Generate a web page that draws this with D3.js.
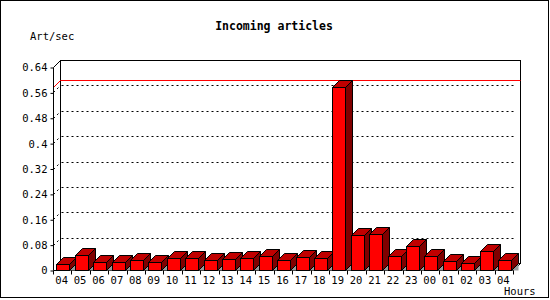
<!doctype html>
<html>
  <head>
    <meta charset="utf-8" />
    <title>Incoming articles</title>
    <style>
      body { margin: 0; background: #fff; }
      svg { display: block; }
      text { font-family: "DejaVu Sans Mono", monospace; font-size: 10.5px; fill: #000; }
      .title { font-weight: bold; font-size: 11.5px; }
      .grid { fill: none; stroke: #000; stroke-dasharray: 2,3; }
      .edge { fill: none; stroke: #000; }
    </style>
  </head>
  <body>
    <div id="chart"></div>
    <script src="https://cdn.jsdelivr.net/npm/d3@7"></script>
    <script>
      // hours shown on the x axis
      var hours = ["04","05","06","07","08","09","10","11","12","13","14","15","16",
                   "17","18","19","20","21","22","23","00","01","02","03","04"];
      // articles per second
      var rates = [0.018, 0.046, 0.024, 0.024, 0.032, 0.024, 0.037, 0.037, 0.031, 0.034,
                   0.037, 0.043, 0.031, 0.040, 0.037, 0.578, 0.110, 0.114, 0.043, 0.075,
                   0.043, 0.028, 0.021, 0.059, 0.031];
      var yTicks = [0, 0.08, 0.16, 0.24, 0.32, 0.4, 0.48, 0.56, 0.64];
      var gridValues = [0.08, 0.16, 0.24, 0.32, 0.4, 0.48, 0.56];

      var width = 550, height = 300;
      var depth = 7;   // 3d offset of the back wall

      var svg = d3.select("#chart").append("svg")
                  .attr("width", width)
                  .attr("height", height);

      var x = d3.scaleBand()
                .domain(d3.range(hours.length))
                .range([53, 513]);
      var y = d3.scaleLinear()
                .domain([0, 0.64])
                .range([270, 67]);

      var bw = x.bandwidth();
      var barW = Math.round(bw * 0.68);
      var barOff = bw * 0.19;

      // outer frame
      svg.append("rect")
         .attr("class", "edge")
         .attr("x", 0.5).attr("y", 0.5)
         .attr("width", 548).attr("height", 297);

      svg.append("text").attr("class", "title")
         .attr("x", 274).attr("y", 30)
         .attr("text-anchor", "middle")
         .text("Incoming articles");
      svg.append("text").attr("x", 30).attr("y", 40).text("Art/sec");
      svg.append("text").attr("x", 504).attr("y", 295).text("Hours");

      var g = svg.append("g").attr("transform", "translate(0.5,0.5)");

      var xL = x.range()[0], xR = x.range()[1];
      var yB = y(0), yT = y(0.64);

      // back wall
      g.append("rect")
       .attr("class", "edge")
       .attr("x", xL + depth).attr("y", yT - depth)
       .attr("width", xR - xL).attr("height", yB - yT);

      // dotted grid on back wall and left side
      gridValues.forEach(function(v) {
        var yy = Math.round(y(v));
        g.append("path").attr("class", "grid")
         .attr("d", "M" + xL + "," + yy + "L" + (xL + depth) + "," + (yy - depth)
              + "M" + (xL + depth + 1) + "," + (yy - depth) + "L" + (xR + 2) + "," + (yy - depth));
      });

      // red line at the maximum value
      var ym = Math.round(y(d3.max(rates)));
      g.append("path")
       .attr("fill", "none").attr("stroke", "#ff0000")
       .attr("d", "M" + xL + "," + ym + "L" + (xL + depth) + "," + (ym - depth)
            + "L" + (xR + depth) + "," + (ym - depth));

      // floor edges
      g.append("path").attr("class", "edge")
       .attr("d", "M" + xL + "," + yB + "L" + xR + "," + yB + "L" + (xR + depth) + "," + (yB - depth));
      g.append("path").attr("class", "edge")
       .attr("d", "M" + xL + "," + yB + "L" + xL + "," + yT + "L" + (xL + depth) + "," + (yT - depth));

      // bars
      var bars = g.selectAll(".bar")
                  .data(rates)
                  .enter().append("g")
                  .attr("class", "bar");

      function geo(d, i) {
        var x0 = Math.round(x(i) + barOff), x1 = x0 + barW;
        var yt = Math.round(y(d));
        return {x0: x0, x1: x1, yt: yt};
      }

      bars.append("path")
          .attr("fill", "#999999")
          .attr("d", function(d, i) {
            var b = geo(d, i);
            return "M" + b.x1 + "," + yB + "L" + (b.x1 + depth) + "," + (yB - depth)
                 + "L" + (b.x1 + depth) + "," + yB + "Z";
          });
      bars.append("path")
          .attr("fill", "#800000").attr("stroke", "#000")
          .attr("d", function(d, i) {
            var b = geo(d, i);
            return "M" + b.x1 + "," + b.yt + "L" + (b.x1 + depth) + "," + (b.yt - depth)
                 + "L" + (b.x1 + depth) + "," + (yB - depth) + "L" + b.x1 + "," + yB + "Z";
          });
      bars.append("path")
          .attr("fill", "#c00000").attr("stroke", "#000")
          .attr("d", function(d, i) {
            var b = geo(d, i);
            return "M" + b.x0 + "," + b.yt + "L" + (b.x0 + depth) + "," + (b.yt - depth)
                 + "L" + (b.x1 + depth) + "," + (b.yt - depth) + "L" + b.x1 + "," + b.yt + "Z";
          });
      bars.append("rect")
          .attr("fill", "#ff0000").attr("stroke", "#000")
          .attr("x", function(d, i) { return geo(d, i).x0; })
          .attr("y", function(d, i) { return geo(d, i).yt; })
          .attr("width", barW)
          .attr("height", function(d, i) { return yB - geo(d, i).yt; });

      // y axis
      var yAxis = d3.axisLeft(y)
                    .tickValues(yTicks)
                    .tickSize(3)
                    .tickSizeOuter(0)
                    .tickPadding(3)
                    .tickFormat(function(d) { return d === 0 ? "0" : String(+d.toFixed(2)); });
      var ya = svg.append("g")
                  .attr("transform", "translate(53.5,0.5)")
                  .call(yAxis);
      ya.select(".domain").remove();
      ya.selectAll("text").style("font-family", "DejaVu Sans Mono").style("font-size", "10.5px");
      ya.selectAll("line").attr("stroke", "#000");

      // x ticks at category boundaries, labels centred
      var bounds = d3.range(hours.length + 1).map(function(i) {
        return i < hours.length ? x(i) : xR;
      });
      g.selectAll(".xtick")
       .data(bounds)
       .enter().append("line")
       .attr("stroke", "#000")
       .attr("x1", function(d) { return Math.round(d); })
       .attr("x2", function(d) { return Math.round(d); })
       .attr("y1", yB).attr("y2", yB + 4);

      svg.selectAll(".xlab")
         .data(hours)
         .enter().append("text")
         .attr("text-anchor", "middle")
         .attr("x", function(d, i) { return x(i) + bw / 2 - 0.5; })
         .attr("y", 284)
         .text(function(d) { return d; });
    </script>
  </body>
</html>
